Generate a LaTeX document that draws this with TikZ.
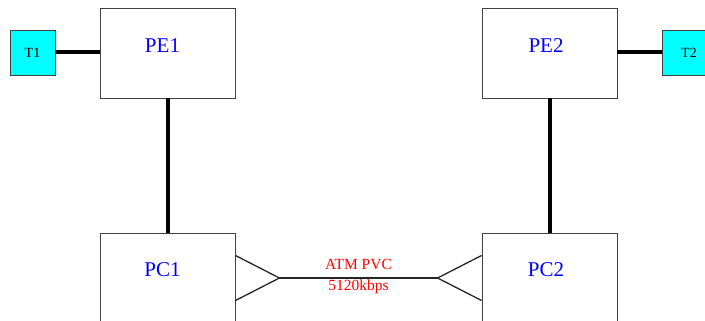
\documentclass[tikz,border=0pt]{standalone}
\usepackage{fontspec}
\setmainfont{Liberation Serif}
\usetikzlibrary{calc}
\definecolor{termcyan}{RGB}{0,255,255}
\definecolor{nameblue}{RGB}{0,0,255}
\definecolor{lblred}{RGB}{255,0,0}
\begin{document}
\begin{tikzpicture}[x=1pt,y=-1pt,
  box/.style={draw=black!75,line width=0.9pt,fill=white,minimum width=135pt,minimum height=90pt,inner sep=0pt},
  term/.style={draw=black!75,line width=0.9pt,fill=termcyan,minimum width=45pt,minimum height=45pt,inner sep=0pt},
  nm/.style={text=nameblue,font=\fontsize{21}{23}\selectfont,inner sep=0pt},
  tnm/.style={text=black,font=\fontsize{14}{16}\selectfont,inner sep=0pt},
  lbl/.style={text=lblred,font=\fontsize{15.5}{17}\selectfont,inner sep=0pt},
  thickline/.style={line width=4pt,black},
  thinline/.style={line width=1.3pt,black!85}]
\useasboundingbox[fill=white] (0,0) rectangle (705,321);
% boxes
\node[box] (pe1) at (167.5,53) {};
\node[box] (pe2) at (549.5,53) {};
\node[box] (pc1) at (167.5,278) {};
\node[box] (pc2) at (549.5,278) {};
\node[term] (t1) at (32.5,52.5) {};
\node[term,minimum width=54pt] (t2) at (689,52.5) {};
% labels
\node[nm] at ([shift={(-5,-7)}]pe1.center) {PE1};
\node[nm] at ([shift={(-3.5,-7)}]pe2.center) {PE2};
\node[nm] at ([shift={(-5,-8)}]pc1.center) {PC1};
\node[nm] at ([shift={(-3.5,-8)}]pc2.center) {PC2};
\node[tnm] at (t1.center) {T1};
\node[tnm] at (t2.center) {T2};
% thick links
\draw[thickline] (t1.east) -- (t1.east -| pe1.west);
\draw[thickline] (t2.west) -- (t2.west -| pe2.east);
\draw[thickline] (pe1.south) -- (pc1.north);
\draw[thickline] (pe2.south) -- (pc2.north);
% ATM link with triangles
\coordinate (a) at ([xshift=44]pc1.east);
\coordinate (b) at ([xshift=-44]pc2.west);
\draw[thinline] ([yshift=-22.5]pc1.east) -- (a) -- ([yshift=22.5]pc1.east);
\draw[thinline] ([yshift=-22.5]pc2.west) -- (b) -- ([yshift=22.5]pc2.west);
\draw[thinline] (a) -- (b);
\coordinate (m) at ($(a)!0.5!(b)$);
\node[lbl] at ([yshift=13.5]m) {ATM PVC};
\node[lbl] at ([yshift=-8.5]m) {5120kbps};
\end{tikzpicture}
\end{document}
